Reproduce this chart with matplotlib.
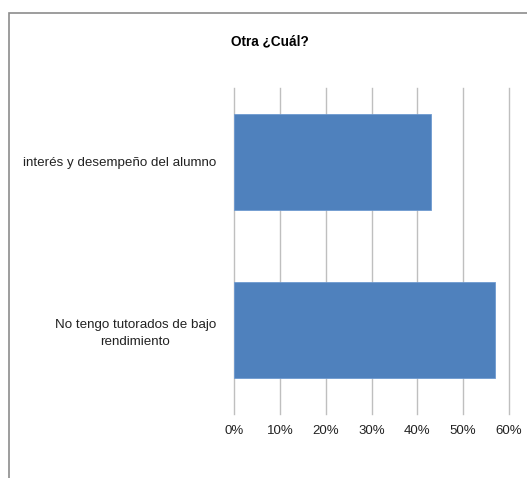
import matplotlib.pyplot as plt
from matplotlib.patches import Rectangle
from matplotlib.ticker import FuncFormatter

categories = ["No tengo tutorados de bajo\nrendimiento", "interés y desempeño del alumno"]
values = [0.57, 0.43]
xticks = [0, 0.1, 0.2, 0.3, 0.4, 0.5, 0.6]

plt.rcParams['font.family'] = ['Liberation Sans', 'DejaVu Sans']

fig = plt.figure(figsize=(5.27, 4.78), dpi=100)
W, H = 527, 478
ax = fig.add_axes([234 / W, 1 - 414 / H, (509 - 234) / W, (414 - 88) / H])

ax.barh(range(len(values)), values, height=0.57, color='#4f81bd',
        edgecolor='#6f9ad0', linewidth=0.6, zorder=3)

ax.set_xlim(0, 0.6)
ax.set_ylim(-0.5, 1.44)
ax.set_xticks(xticks)
ax.xaxis.set_major_formatter(FuncFormatter(lambda v, p: f"{v * 100:.0f}%"))
ax.set_yticks(range(len(categories)))
ax.set_yticklabels(categories, multialignment='center', fontsize=9.6, linespacing=1.5)
ax.grid(axis='x', color='#bfbfbf', linewidth=1, zorder=0)
for gl in ax.get_xgridlines():
    gl.set_clip_on(False)
for s in ax.spines.values():
    s.set_visible(False)
ax.tick_params(axis='both', length=0)
ax.tick_params(axis='x', pad=8, labelsize=9.5, labelcolor='#222222')
ax.tick_params(axis='y', pad=13, labelcolor='#222222')

fig.text(270 / W, 1 - 41 / H, "Otra ¿Cuál?", ha='center', va='center',
         fontsize=9.8, fontweight='bold')

# chart border
fig.patches.append(Rectangle((9 / W, -0.05), 1.1, 1 - 13 / H + 0.05,
                             transform=fig.transFigure, fill=False,
                             edgecolor='#8c8c8c', linewidth=1.2))

fig.savefig("out.png", dpi=100)
